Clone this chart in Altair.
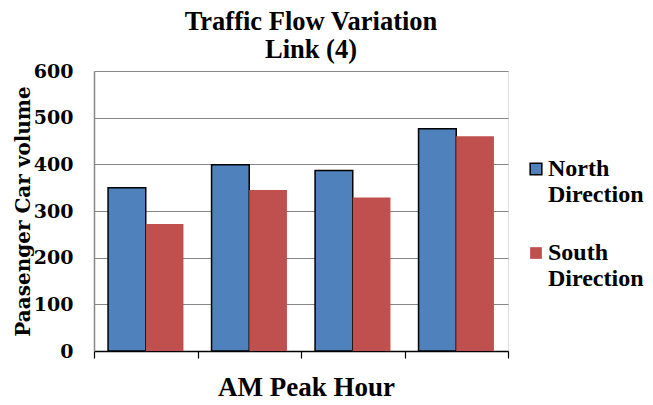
import altair as alt
import pandas as pd

groups = ["1", "2", "3", "4"]
north = [350, 399, 387, 476]
south = [272, 345, 329, 460]
series = ["North Direction", "South Direction"]
colors = ["#4F81BD", "#C0504D"]
strokes = ["#000000", "transparent"]
boundaries = [0, 1, 2, 3, 4]

rows = []
for g, n, s in zip(groups, north, south):
    rows.append({"group": g, "Direction": series[0], "volume": n})
    rows.append({"group": g, "Direction": series[1], "volume": s})
df = pd.DataFrame(rows)
bdf = pd.DataFrame({"b": boundaries})

serif = "Liberation Serif"

bars = alt.Chart(df).mark_bar(strokeWidth=1.5).encode(
    x=alt.X("group:N", sort=groups,
            scale=alt.Scale(paddingInner=0, paddingOuter=0),
            axis=None),
    xOffset=alt.XOffset("Direction:N", sort=series,
                        scale=alt.Scale(paddingInner=0, paddingOuter=0.373)),
    y=alt.Y("volume:Q", scale=alt.Scale(domain=[0, 600]),
            axis=alt.Axis(title="Paasenger Car volume", values=[0, 100, 200, 300, 400, 500, 600],
                          ticks=False, labelPadding=21, labelFont="DejaVu Serif",
                          labelFontSize=19, labelFontWeight="bold", labelColor="#000000",
                          domainColor="#868686", domainWidth=1.5,
                          gridColor="#868686", gridWidth=1.2,
                          titleFont="DejaVu Serif", titleFontSize=20, titleFontWeight="bold",
                          titleColor="#000000", titleX=-71, titleBaseline="middle",
                          titleAngle=270)),
    color=alt.Color("Direction:N", sort=series,
                    scale=alt.Scale(domain=series, range=colors),
                    legend=alt.Legend(title=None, orient="none", legendX=430, legendY=86,
                                      symbolType="square", symbolSize=137,
                                      labelFont=serif, labelFontSize=24,
                                      labelFontWeight="bold", labelColor="#000000",
                                      labelExpr="split(datum.label, ' ')", labelOffset=0,
                                      labelLimit=200, rowPadding=34, symbolStrokeWidth=1.5)),
    stroke=alt.Stroke("Direction:N", sort=series,
                      scale=alt.Scale(domain=series, range=strokes)),
)

xaxis = alt.Chart(bdf).mark_rule(opacity=0).encode(
    x=alt.X("b:Q", scale=alt.Scale(domain=[0, 4], nice=False, zero=False),
            axis=alt.Axis(title="AM Peak Hour", labels=False, values=boundaries,
                          ticks=True, tickSize=7, tickColor="#000000", tickWidth=1.2,
                          domainColor="#000000", domainWidth=1.5, grid=False,
                          titleFont=serif, titleFontSize=27, titleFontWeight="bold",
                          titleColor="#000000", titleBaseline="alphabetic", titleY=44,
                          titleX=212, titleAlign="center")),
)

chart = alt.layer(bars, xaxis).resolve_scale(x="independent").properties(
    width=414,
    height=280,
    title=alt.TitleParams(text=["Traffic Flow Variation", "Link (4)"], font=serif,
                          fontSize=26.5, fontWeight="bold", color="#000000",
                          anchor="middle", dx=10, lineHeight=28, offset=-1),
    autosize=alt.AutoSizeParams(type="none"),
    padding={"left": 86, "top": 63, "right": 137, "bottom": 46},
).configure_view(stroke="#868686", strokeWidth=1.2).configure(background="white")

chart.save("out.html", embed_options={"renderer": "svg", "actions": False})
